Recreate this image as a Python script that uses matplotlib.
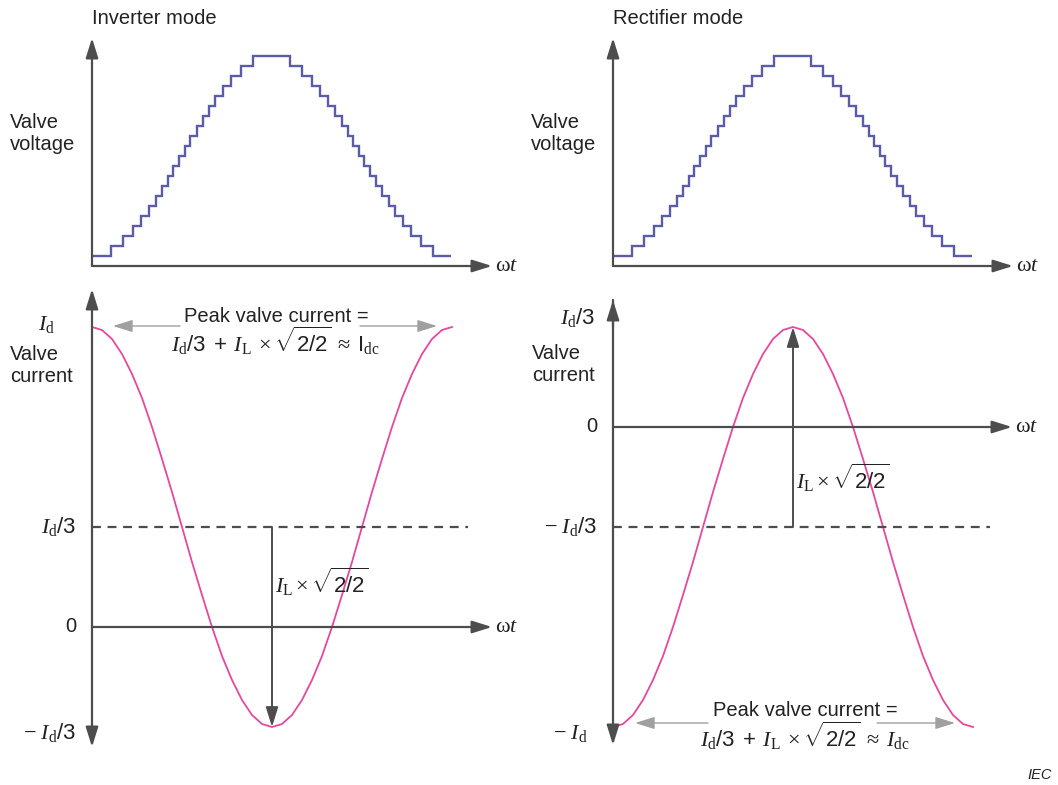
import matplotlib.pyplot as plt

plt.rcParams['font.family'] = ['Liberation Sans', 'DejaVu Sans']
plt.rcParams['mathtext.fontset'] = 'custom'
plt.rcParams['mathtext.rm'] = 'Liberation Serif'
plt.rcParams['mathtext.it'] = 'Liberation Serif:italic'
plt.rcParams['mathtext.sf'] = 'Liberation Sans'

# valve voltage staircase: step edges (degrees) and the level held on each step
step_edges = [0, 19, 31, 41, 49, 57, 64, 70, 76, 81, 87, 93, 98, 105, 111, 117, 123, 131, 139, 149, 161,
              198, 210, 220, 228, 236, 243, 250, 256, 261, 267, 272, 278, 284, 290, 297, 303, 311, 319, 329, 341, 359]
step_levels = [1, 2, 3, 4, 5, 6, 7, 8, 9, 10, 11, 12, 13, 14, 15, 16, 17, 18, 19, 20, 21,
               20, 19, 18, 17, 16, 15, 14, 13, 12, 11, 10, 9, 8, 7, 6, 5, 4, 3, 2, 1]

# valve current over one cycle, in units of Id/3
angle = [0, 10, 20, 30, 40, 50, 60, 70, 80, 90, 100, 110, 120, 130, 140, 150, 160, 170, 180,
         190, 200, 210, 220, 230, 240, 250, 260, 270, 280, 290, 300, 310, 320, 330, 340, 350, 360]
inverter_current = [3.00, 2.97, 2.88, 2.73, 2.53, 2.29, 2.00, 1.68, 1.35, 1.00, 0.65, 0.32, 0.00,
                    -0.29, -0.53, -0.73, -0.88, -0.97, -1.00, -0.97, -0.88, -0.73, -0.53, -0.29,
                    0.00, 0.32, 0.65, 1.00, 1.35, 1.68, 2.00, 2.29, 2.53, 2.73, 2.88, 2.97, 3.00]
rectifier_current = [-3.00, -2.97, -2.88, -2.73, -2.53, -2.29, -2.00, -1.68, -1.35, -1.00, -0.65, -0.32, 0.00,
                     0.29, 0.53, 0.73, 0.88, 0.97, 1.00, 0.97, 0.88, 0.73, 0.53, 0.29,
                     0.00, -0.32, -0.65, -1.00, -1.35, -1.68, -2.00, -2.29, -2.53, -2.73, -2.88, -2.97, -3.00]

AXIS = '#4d4d4d'
STAIR = '#5b5ca8'
PINK = '#e5489c'
GUIDE = '#a0a0a0'
TXT = '#222222'

W, H = 1058, 785
fig = plt.figure(figsize=(W / 100, H / 100), dpi=100)
fig.patch.set_facecolor('white')


def panel(x0, x1, y_top, y_bot, xlim, ylim):
    ax = fig.add_axes([x0 / W, 1 - y_bot / H, (x1 - x0) / W, (y_bot - y_top) / H])
    ax.set_xlim(xlim)
    ax.set_ylim(ylim)
    ax.axis('off')
    return ax


def arrow(ax, start, tip, style='-|>', color=AXIS, lw=1.6):
    ax.annotate('', xy=tip, xytext=start, annotation_clip=False,
                arrowprops=dict(arrowstyle=style + ',head_length=0.8,head_width=0.25',
                                color=color, lw=lw, mutation_scale=15,
                                shrinkA=0, shrinkB=0))


sans = dict(fontsize=14.5, color=TXT)
serif = dict(fontsize=16, color=TXT)
omega_t = r'$\mathrm{\omega}t$'
peak_formula = r'$I_{\mathrm{d}}\mathsf{/3\;+\;}I_{\mathrm{L}}\;\times\sqrt{\mathsf{2/2}}\;\approx\;%s$'
ripple_label = r'$I_{\mathrm{L}}\times\sqrt{\mathsf{2/2}}$'

# ---- top row: valve voltage ----
for x0, title in [(92, 'Inverter mode'), (613, 'Rectifier mode')]:
    ax = panel(x0, x0 + 420, 30, 266, (0, 420), (0, 23.6))
    ax.stairs(step_levels, step_edges, baseline=None, color=STAIR, lw=1.7)
    arrow(ax, (0, 0), (0, 22.8))
    arrow(ax, (0, 0), (400, 0))
    ax.text(403, 0, omega_t, va='center', ha='left', **serif)
    ax.text(0, 24.8, title, va='center', ha='left', **sans)
    ax.text(-82, 13.2, 'Valve\nvoltage', va='center', ha='left', linespacing=1.2, **sans)

# ---- bottom left: inverter valve current ----
ax = panel(92, 512, 280, 760, (0, 420), ((627 - 760) / 100, (627 - 280) / 100))
ax.plot(angle, inverter_current, color=PINK, lw=1.3)
arrow(ax, (0, -1.2), (0, 3.38), style='<|-|>')
arrow(ax, (0, 0), (400, 0))
ax.plot([0, 376], [1, 1], color=AXIS, lw=1.6, ls=(0, (4, 3)))
arrow(ax, (180, 1), (180, -1), lw=1.4)
arrow(ax, (88, 3.01), (21, 3.01), color=GUIDE, lw=1.0)
arrow(ax, (268, 3.01), (345, 3.01), color=GUIDE, lw=1.0)
ax.text(403, 0, omega_t, va='center', ha='left', **serif)
ax.text(184, 3.11, 'Peak valve current =', ha='center', va='center', **sans)
ax.text(184, 2.86, peak_formula % r'\mathsf{I}_{\mathrm{dc}}', ha='center', va='center', **serif)
ax.text(183, 0.45, ripple_label, ha='left', va='center', **serif)
ax.text(-37, 3.03, r'$I_{\mathrm{d}}$', ha='right', va='center', **serif)
ax.text(-82, 2.62, 'Valve\ncurrent', va='center', ha='left', linespacing=1.2, **sans)
ax.text(-16, 1.0, r'$I_{\mathrm{d}}\mathsf{/3}$', ha='right', va='center', **serif)
ax.text(-16, 0.0, '0', ha='right', va='center', **sans)
ax.text(-16, -1.06, r'$\mathrm{-}\ I_{\mathrm{d}}\mathsf{/3}$', ha='right', va='center', **serif)

# ---- bottom right: rectifier valve current ----
ax = panel(613, 1033, 280, 760, (0, 420), ((427 - 760) / 100, (427 - 280) / 100))
ax.plot(angle, rectifier_current, color=PINK, lw=1.3)
arrow(ax, (0, 1.27), (0, -3.18))
arrow(ax, (0, 1.0), (0, 1.27))
arrow(ax, (0, 0), (399, 0))
ax.plot([0, 377], [-1, -1], color=AXIS, lw=1.6, ls=(0, (4, 3)))
arrow(ax, (180, -1), (180, 1), lw=1.4)
arrow(ax, (95, -2.96), (22, -2.96), color=GUIDE, lw=1.0)
arrow(ax, (264, -2.96), (342, -2.96), color=GUIDE, lw=1.0)
ax.text(402, 0, omega_t, va='center', ha='left', **serif)
ax.text(192, -2.84, 'Peak valve current =', ha='center', va='center', **sans)
ax.text(192, -3.09, peak_formula % r'I_{\mathrm{dc}}', ha='center', va='center', **serif)
ax.text(183, -0.51, ripple_label, ha='left', va='center', **serif)
ax.text(-18, 1.09, r'$I_{\mathrm{d}}\mathsf{/3}$', ha='right', va='center', **serif)
ax.text(-81, 0.62, 'Valve\ncurrent', va='center', ha='left', linespacing=1.2, **sans)
ax.text(-16, 0.0, '0', ha='right', va='center', **sans)
ax.text(-16, -1.0, r'$\mathrm{-}\ I_{\mathrm{d}}\mathsf{/3}$', ha='right', va='center', **serif)
ax.text(-25, -3.06, r'$\mathrm{-}\ I_{\mathrm{d}}$', ha='right', va='center', **serif)

fig.text(1040 / W, 1 - 775 / H, 'IEC', ha='center', va='center', fontsize=10.5,
         style='italic', color=TXT)

fig.savefig('out.png', dpi=100)
